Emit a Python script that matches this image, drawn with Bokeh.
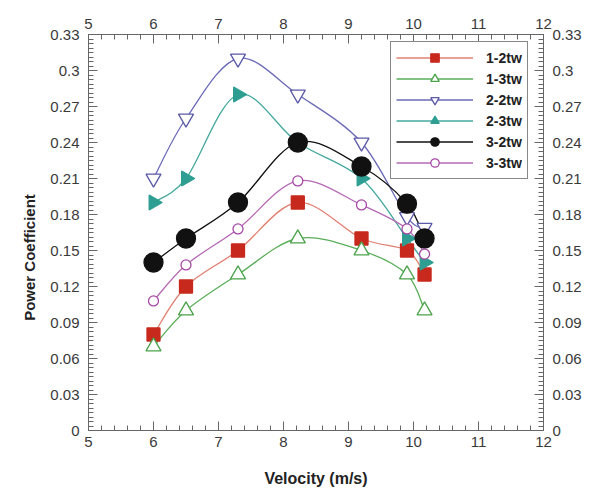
import numpy as np
from bokeh.plotting import figure
from bokeh.models import (LinearAxis, Range1d, FixedTicker, Legend, LegendItem)
from bokeh.embed import file_html
from bokeh.resources import INLINE

# ---- data ----
velocity = [6.0, 6.5, 7.3, 8.22, 9.2, 9.9, 10.17]
s_12tw = [0.08, 0.12, 0.15, 0.19, 0.16, 0.15, 0.13]
s_13tw = [0.07, 0.10, 0.13, 0.16, 0.15, 0.13, 0.10]
s_22tw = [0.21, 0.26, 0.31, 0.28, 0.24, 0.178, 0.169]
s_23tw = [0.19, 0.21, 0.28, 0.24, 0.21, 0.16, 0.14]
s_32tw = [0.14, 0.16, 0.19, 0.24, 0.22, 0.189, 0.16]
s_33tw = [0.108, 0.138, 0.168, 0.208, 0.188, 0.168, 0.147]
series_names = ["1-2tw", "1-3tw", "2-2tw", "2-3tw", "3-2tw", "3-3tw"]

x_ticks = [5, 6, 7, 8, 9, 10, 11, 12]
y_ticks = [0, 0.03, 0.06, 0.09, 0.12, 0.15, 0.18, 0.21, 0.24, 0.27, 0.3, 0.33]
y_tick_labels = ["0", "0.03", "0.06", "0.09", "0.12", "0.15", "0.18", "0.21",
                 "0.24", "0.27", "0.3", "0.33"]

# ---- styles ----
styles = {
    "1-2tw": dict(line="#e07f70", marker="square", size=13, fill="#c8291d", mline="#c8291d", angle=0.0),
    "1-3tw": dict(line="#5aae5a", marker="triangle", size=15, fill="white", mline="#4aa24a", angle=0.0),
    "2-2tw": dict(line="#6a6ab6", marker="inverted_triangle", size=15, fill="white", mline="#5a5aa8", angle=0.0),
    "2-3tw": dict(line="#44a89e", marker="triangle", size=15, fill="#2e9e92", mline="#2e9e92", angle=-np.pi / 2),
    "3-2tw": dict(line="#111111", marker="circle", size=19, fill="#111111", mline="#111111", angle=0.0),
    "3-3tw": dict(line="#b468b4", marker="circle", size=10, fill="white", mline="#a548a5", angle=0.0),
}
data_map = dict(zip(series_names, [s_12tw, s_13tw, s_22tw, s_23tw, s_32tw, s_33tw]))

FONT = "Liberation Sans"

p = figure(width=600, height=490, x_range=Range1d(5, 12), y_range=Range1d(0, 0.33),
           output_backend="svg", toolbar_location=None, x_axis_location=None,
           y_axis_location=None,
           min_border_left=88, min_border_right=57, min_border_top=34, min_border_bottom=60)
p.xgrid.visible = False
p.ygrid.visible = False
p.outline_line_color = "#666666"
p.background_fill_color = "white"
p.border_fill_color = "white"

x_minor = list(np.arange(5, 12.0001, 0.2))
y_minor = list(np.arange(0, 0.33001, 0.03 / 8))


def style_axis(ax, ticks, minor, labels=None):
    ax.ticker = FixedTicker(ticks=ticks, minor_ticks=minor)
    if labels is not None:
        ax.major_label_overrides = {t: l for t, l in zip(ticks, labels)}
    ax.major_tick_in = 9
    ax.major_tick_out = 0
    ax.minor_tick_in = 5
    ax.minor_tick_out = 0
    ax.axis_line_color = "#666666"
    ax.major_tick_line_color = "#666666"
    ax.minor_tick_line_color = "#666666"
    ax.major_label_text_font = FONT
    ax.major_label_text_font_size = "15px"
    ax.major_label_text_color = "#3a3a3a"
    ax.axis_label_text_font = FONT
    ax.axis_label_text_font_style = "bold"
    ax.axis_label_text_color = "#222222"


bottom_axis = LinearAxis(axis_label="Velocity (m/s)")
top_axis = LinearAxis()
left_axis = LinearAxis(axis_label="Power Coefficient" + "\u00a0" * 12)
right_axis = LinearAxis()
p.add_layout(bottom_axis, "below")
p.add_layout(top_axis, "above")
p.add_layout(left_axis, "left")
p.add_layout(right_axis, "right")

for ax in [bottom_axis, top_axis]:
    style_axis(ax, x_ticks, x_minor)
    ax.major_label_standoff = 6
for ax in [left_axis, right_axis]:
    style_axis(ax, y_ticks, y_minor, y_tick_labels)
    ax.major_label_standoff = 9
bottom_axis.axis_label_standoff = 20
bottom_axis.axis_label_text_font_size = "16px"
left_axis.axis_label_standoff = 9
left_axis.axis_label_text_font_size = "15px"


def bezier_segments(xs, ys):
    xs = np.asarray(xs, float)
    ys = np.asarray(ys, float)
    n = len(xs)
    xp = np.concatenate([[xs[0]], xs, [xs[-1]]])
    yp = np.concatenate([[ys[0]], ys, [ys[-1]]])
    x0, y0, x1, y1, cx0, cy0, cx1, cy1 = [], [], [], [], [], [], [], []
    for i in range(n - 1):
        j = i + 1
        x0.append(xp[j]); y0.append(yp[j])
        x1.append(xp[j + 1]); y1.append(yp[j + 1])
        cx0.append(xp[j] + (xp[j + 1] - xp[j - 1]) / 6)
        cy0.append(yp[j] + (yp[j + 1] - yp[j - 1]) / 6)
        cx1.append(xp[j + 1] - (xp[j + 2] - xp[j]) / 6)
        cy1.append(yp[j + 1] - (yp[j + 2] - yp[j]) / 6)
    return dict(x0=x0, y0=y0, x1=x1, y1=y1, cx0=cx0, cy0=cy0, cx1=cx1, cy1=cy1)


curve_r = {}
for name in series_names:
    st = styles[name]
    seg = bezier_segments(velocity, data_map[name])
    curve_r[name] = p.bezier(source=seg, x0="x0", y0="y0", x1="x1", y1="y1",
                             cx0="cx0", cy0="cy0", cx1="cx1", cy1="cy1",
                             line_color=st["line"], line_width=1.3)

items = []
for name in series_names:
    st = styles[name]
    sc = p.scatter(velocity, data_map[name], marker=st["marker"], size=st["size"],
                   fill_color=st["fill"], line_color=st["mline"], line_width=1.3,
                   angle=st["angle"])
    items.append(LegendItem(label=name, renderers=[curve_r[name], sc]))

legend = Legend(items=items, location=(302, 251))
legend.border_line_color = "#111111"
legend.border_line_width = 1.2
legend.background_fill_color = "white"
legend.background_fill_alpha = 1.0
legend.label_text_font = FONT
legend.label_text_font_size = "14px"
legend.label_text_font_style = "bold"
legend.label_text_color = "#222222"
legend.glyph_width = 77
legend.glyph_height = 21
legend.label_height = 21
legend.label_standoff = 13
legend.spacing = 0
legend.padding = 5
legend.margin = 0
p.add_layout(legend, "center")

open("out.html", "w").write(file_html(p, INLINE))
